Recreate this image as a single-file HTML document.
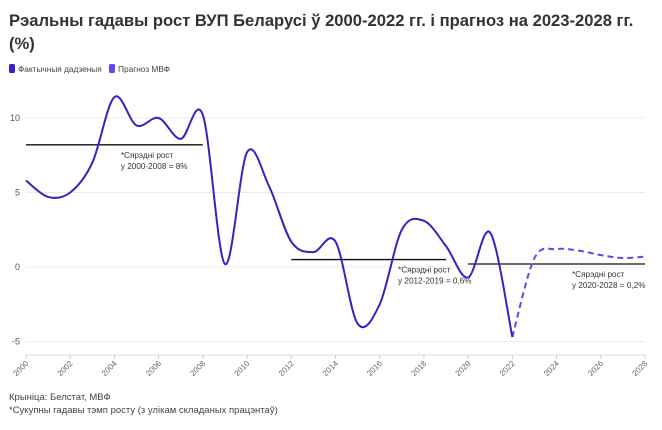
<!DOCTYPE html>
<html><head><meta charset="utf-8"><style>
body{margin:0;background:#fff;font-family:"Liberation Sans",sans-serif;}
svg text{font-family:"Liberation Sans",sans-serif;}
</style></head><body>
<svg width="662" height="425">
<text x="9" y="26" font-size="16.6" font-weight="bold" fill="#333">Рэальны гадавы рост ВУП Беларусі ў 2000-2022 гг. і прагноз на 2023-2028 гг.</text>
<text x="9" y="49" font-size="16.6" font-weight="bold" fill="#333">(%)</text>
<g>
<rect x="9" y="64" width="6" height="9" rx="1.5" fill="#3a1fc4"/>
<text x="18" y="72" font-size="8.3" fill="#444">Фактычныя дадзеныя</text>
<rect x="109" y="64" width="6" height="9" rx="1.5" fill="#5b4cf0"/>
<text x="118" y="72" font-size="8.3" fill="#444">Прагноз МВФ</text>
</g>
<g id="grid"></g><g id="axes"></g><g id="marks"></g>
<text x="9" y="400" font-size="9.5" fill="#444">Крыніца: Белстат, МВФ</text>
<text x="9" y="413" font-size="9.5" fill="#444">*Сукупны гадавы тэмп росту (з улікам складаных працэнтаў)</text>
</svg>
<script>
const years=[2000,2001,2002,2003,2004,2005,2006,2007,2008,2009,2010,2011,2012,2013,2014,2015,2016,2017,2018,2019,2020,2021,2022];
const actual=[5.8,4.7,5.0,7.0,11.4,9.5,10.0,8.6,10.2,0.2,7.7,5.4,1.7,1.0,1.7,-3.8,-2.5,2.5,3.1,1.4,-0.7,2.3,-4.7];
const fYears=[2022,2023,2024,2025,2026,2027,2028];
const forecast=[-4.7,0.6,1.2,1.1,0.8,0.6,0.7];
const avgStart=[2000,2012,2020];
const avgEnd=[2008,2019,2028];
const avgVal=[8.2,0.5,0.2];
const avgLabel=[["*Сярэдні рост","у 2000-2008 = 8%"],["*Сярэдні рост","у 2012-2019 = 0,6%"],["*Сярэдні рост","у 2020-2028 = 0,2%"]];
const yTicks=[-5,0,5,10];
const xTicks=[2000,2002,2004,2006,2008,2010,2012,2014,2016,2018,2020,2022,2024,2026,2028];
const X=y=>26+(y-2000)*(645-26)/28;
const Y=v=>267-v*14.9;
const NS="http://www.w3.org/2000/svg";
function mk(tag,attrs,parent){const e=document.createElementNS(NS,tag);for(const k in attrs)e.setAttribute(k,attrs[k]);document.getElementById(parent).appendChild(e);return e;}
yTicks.forEach(t=>{
 const l=mk('line',{x1:26,x2:645,y1:Y(t),y2:Y(t),stroke:'#ececec'},'grid');
 
 
 const tx=mk('text',{x:20,y:Y(t)+3,'font-size':9,fill:'#555','text-anchor':'end'},'axes');tx.textContent=t;
 
 
});
const base=mk('line',{x1:26,x2:645,y1:355,y2:355,stroke:'#ddd'},'axes');


xTicks.forEach(t=>{
 const tk=mk('line',{x1:X(t),x2:X(t),y1:355,y2:359,stroke:'#ccc'},'axes');
 
 
 const tx=mk('text',{x:X(t)+3,y:364,'font-size':8,fill:'#666','text-anchor':'end',transform:`rotate(-45 ${X(t)+3} 364)`},'axes');tx.textContent=t;
 
 
});
function path(xs,vs){const p=xs.map((x,i)=>[X(x),Y(vs[i])]);let d=`M${p[0][0]},${p[0][1]}`;
 for(let i=0;i<p.length-1;i++){const p0=p[i-1]||p[i],p1=p[i],p2=p[i+1],p3=p[i+2]||p2;
  const c1=[p1[0]+(p2[0]-p0[0])/6,p1[1]+(p2[1]-p0[1])/6],c2=[p2[0]-(p3[0]-p1[0])/6,p2[1]-(p3[1]-p1[1])/6];
  d+=` C${c1[0]},${c1[1]} ${c2[0]},${c2[1]} ${p2[0]},${p2[1]}`;}return d;}
avgVal.forEach((v,i)=>{
 const l=mk('line',{x1:X(avgStart[i]),x2:X(avgEnd[i]),y1:Y(v),y2:Y(v),stroke:'#111','stroke-width':1.3},'marks');
 
 
 const tx=mk('text',{x:X(avgEnd[i])-(i==0?82:(i==1?48:73)),y:Y(v)+13,'font-size':8.2,fill:'#333'},'marks');
 
 
 avgLabel[i].forEach((s,j)=>{const ts=document.createElementNS(NS,'tspan');ts.setAttribute('x',tx.getAttribute('x'));ts.setAttribute('dy',j?11:0);ts.textContent=s;tx.appendChild(ts);});
});
const fl=mk('path',{d:path(fYears,forecast),fill:'none',stroke:'#5b4cf0','stroke-width':2,'stroke-dasharray':'6 4'},'marks');


const al=mk('path',{d:path(years,actual),fill:'none',stroke:'#3a1fc4','stroke-width':2},'marks');


</script>
</body></html>
